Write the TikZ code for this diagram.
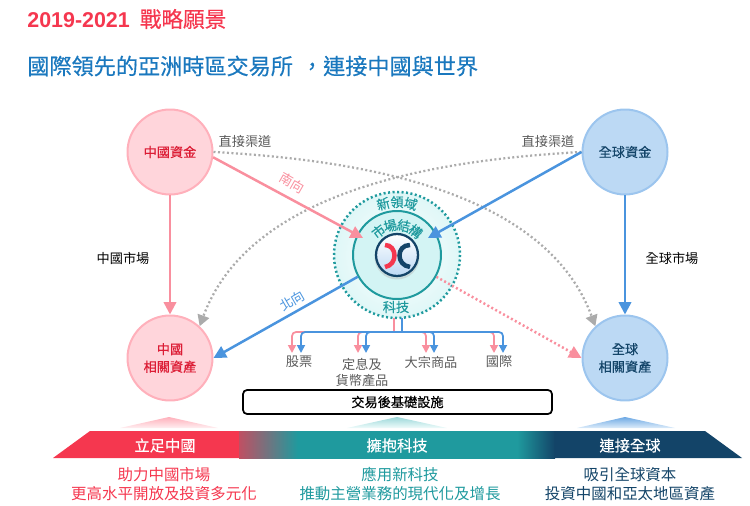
\documentclass[tikz,border=0pt]{standalone}
\usepackage{fontspec}
\setmainfont{Noto Sans CJK TC}
\newfontfamily\latinfont{Liberation Sans}
\newfontfamily\cjkmed[FakeBold=0.4]{Noto Sans CJK TC}
\usetikzlibrary{arrows.meta,calc}

\definecolor{lhred}{HTML}{F5374F}
\definecolor{lhdeep}{HTML}{DC1C35}
\definecolor{lhpink}{HTML}{F98F9E}
\definecolor{lhrose}{HTML}{FFD5DB}
\definecolor{lhrim}{HTML}{FFB0BB}
\definecolor{lhblue}{HTML}{4A94DE}
\definecolor{lhsky}{HTML}{BCD9F4}
\definecolor{lhsea}{HTML}{9CC5EE}
\definecolor{lhnavy}{HTML}{134468}
\definecolor{lhteal}{HTML}{1F9A9E}
\definecolor{lhaqua}{HTML}{D3F4F4}
\definecolor{lhfoam}{HTML}{DFF7F7}
\definecolor{lhtitle}{HTML}{1A78BE}
\definecolor{lhgrey}{HTML}{ABABAB}
\definecolor{lhtext}{HTML}{5A5A5A}

\pgfdeclarehorizontalshading{lhband}{100bp}{
  color(0bp)=(lhred!75!lhteal); color(25bp)=(lhred!75!lhteal); color(34.3bp)=(lhteal);
  color(69bp)=(lhteal); color(75bp)=(lhnavy); color(100bp)=(lhnavy)}

\tikzset{
  cnball/.style={circle,minimum size=1.7cm,inner sep=0pt,line width=0.04cm,draw=lhrim,fill=lhrose,
    text=lhdeep,align=center,font=\cjkmed\fontsize{7.5}{10}\selectfont},
  glball/.style={cnball,draw=lhsea,fill=lhsky,text=lhnavy},
  label/.style={font=\fontsize{7.5}{8.8}\selectfont,text=lhtext,align=center,inner sep=0pt},
  ringtext/.style={font=\cjkmed\fontsize{7.5}{9}\selectfont,text=lhteal,inner sep=0pt},
  bartext/.style={font=\cjkmed\fontsize{8.7}{10}\selectfont,text=white,inner sep=0pt},
  footnotetext/.style={font=\fontsize{8.8}{10.8}\selectfont,align=center,inner sep=0pt},
  pinkline/.style={draw=lhpink,line width=0.05cm,-{Triangle[length=0.25cm,width=0.25cm]}},
  blueline/.style={draw=lhblue,line width=0.05cm,-{Triangle[length=0.25cm,width=0.25cm]}},
  channel/.style={draw=lhgrey,line width=0.045cm,dash pattern=on 0.04cm off 0.05cm,-{Triangle[length=0.22cm,width=0.24cm]}},
  pinkstub/.style={draw=lhpink,line width=0.035cm},
  bluestub/.style={draw=lhblue,line width=0.035cm},
}

\begin{document}
\begin{tikzpicture}[x=0.02cm,y=-0.02cm]
\useasboundingbox (0,0) rectangle (750,506);

% titles
\node[anchor=west,inner sep=0pt,text=lhred] (maintitle) at (27,19)
  {{\latinfont\bfseries\fontsize{12.2}{14}\selectfont 2019-2021}\hspace{0.2cm}{\cjkmed\fontsize{12.3}{14}\selectfont 戰略願景}};
\node[anchor=west,inner sep=0pt,text=lhtitle,font=\cjkmed\fontsize{12.6}{14}\selectfont] (subtitle) at (27,66)
  {國際領先的亞洲時區交易所\hspace{0.16cm}，連接中國與世界};

% four corner balls
\node[cnball] (cnfund) at (170,152) {中國資金};
\node[glball] (glfund) at (625,152) {全球資金};
\node[cnball] (cnasset) at (170,358) {中國\\相關資產};
\node[glball] (glasset) at (625,358) {全球\\相關資產};

% centre rings
\node[circle,minimum size=2.52cm,inner sep=0pt,inner color=white,outer color=lhfoam] (newring) at (397,255) {};
\draw[lhteal,line width=0.05cm,dash pattern=on 0.04cm off 0.05cm] (397,255) circle (63);
\node[circle,minimum size=1.76cm,inner sep=0pt,line width=0.04cm,draw=lhteal,fill=lhaqua] (mktring) at (397,255) {};

% logo
\fill[black!30,opacity=0.4] (397,257) circle (22.5);
\node[circle,minimum size=0.84cm,inner sep=0pt,line width=0.045cm,draw=lhnavy,
  top color=white,bottom color=lhsky] (logo) at (397,255) {};
\draw[lhred,line width=0.09cm] (385,245) .. controls (391,245) and (394.5,250) .. (394.5,255.5)
  .. controls (394.5,261) and (391,266) .. (385,267);
\draw[lhnavy,line width=0.09cm] (410,245) .. controls (403,245) and (399.5,250) .. (399.5,255.5)
  .. controls (399.5,261) and (403,266) .. (410,267);

% ring labels
\foreach \ch/\ang [count=\i] in {新/105,領/90,域/75}
  \node[ringtext,rotate=\ang-90] (newch\i) at ($(397,255)+(\ang:1.06cm)$) {\ch};
\foreach \ch/\ang [count=\i] in {市/128,場/103,結/77,構/52}
  \node[ringtext,rotate=\ang-90] (mktch\i) at ($(397,255)+(\ang:0.6cm)$) {\ch};
\node[ringtext] (tech) at (396,307) {科技};

% direct channels
\draw[channel] (cnfund.east) .. controls (360,160) and (545,190) .. (glasset.133);
\draw[channel] (glfund.west) .. controls (435,160) and (250,190) .. (cnasset.47);

% markets
\draw[pinkline] (cnfund) -- (cnasset);
\draw[blueline] (glfund) -- (glasset);
\node[inner sep=0pt,font=\fontsize{7.5}{9}\selectfont] (cnmarket) at (123,258) {中國市場};
\node[inner sep=0pt,font=\fontsize{7.5}{9}\selectfont] (glmarket) at (672,258) {全球市場};
\node[label] (directl) at (245,141) {直接渠道};
\node[label] (directr) at (548,141) {直接渠道};

% south and north bound
\coordinate (southtip) at (363,238);
\coordinate (easttip) at (428,238);
\draw[pinkline] (cnfund.-7) -- (southtip);
\draw[blueline] (glfund.west) -- (easttip);
\draw[blueline] (mktring.209) -- (cnasset.east);
\draw[draw=lhpink,line width=0.05cm,dash pattern=on 0.04cm off 0.05cm,-{Triangle[length=0.25cm,width=0.25cm]}] (mktring.-29) -- (glasset.west);
\node[label,text=lhpink,rotate=-30] (south) at (292,183) {南向};
\node[label,text=lhblue,rotate=30] (north) at (292,301) {北向};

% product branches
\coordinate (pinkjoin) at (394,332);
\coordinate (bluejoin) at (402,332);
\draw[pinkstub] (394,318) -- (pinkjoin);
\draw[bluestub] (402,318) -- (bluejoin);
\foreach \px in {292,358,426,494} {
  \coordinate (pt\px) at (\px,353);
  \draw[pinkstub,rounded corners=0.08cm,-{Triangle[length=0.16cm,width=0.16cm]}] (pinkjoin) -- (\px,332) -- (pt\px);
}
\foreach \bx in {301,366,434,503} {
  \coordinate (bt\bx) at (\bx,353);
  \draw[bluestub,rounded corners=0.08cm,-{Triangle[length=0.16cm,width=0.16cm]}] (bluejoin) -- (\bx,332) -- (bt\bx);
}
\node[label] (stocks) at (299,362) {股票};
\node[label,anchor=north] (fixed) at (362,358) {定息及\\貨幣產品};
\node[label] (commod) at (431,362) {大宗商品};
\node[label] (intl) at (499,362) {國際};

% post trade box
\node[draw=black,line width=0.035cm,rounded corners=0.08cm,fill=white,minimum width=6.18cm,minimum height=0.48cm,
  inner sep=0pt,font=\cjkmed\fontsize{7.5}{9}\selectfont] (posttrade) at (397.5,402) {交易後基礎設施};

% small triangles
\shade[top color=lhrim,bottom color=lhrose!40] (120,428) -- (169,417) -- (218,428) -- cycle;
\shade[top color=lhteal!30!lhaqua,bottom color=lhfoam!50] (347,428) -- (397,417) -- (447,428) -- cycle;
\shade[top color=lhblue!80,bottom color=lhsky!50] (577,428) -- (625,417) -- (675,428) -- cycle;

% banner
\fill[lhred] (53,458) -- (90,431) -- (239,431) -- (239,458) -- cycle;
\shade[shading=lhband] (239,431) rectangle (555,458);
\fill[lhnavy] (554.5,431) -- (705,431) -- (742,458) -- (554.5,458) -- cycle;
\node[bartext] (standcn) at (165,445.5) {立足中國};
\node[bartext] (embrace) at (397,445.5) {擁抱科技};
\node[bartext] (linkgl) at (630,445.5) {連接全球};

% bottom texts
\node[footnotetext,text=lhred] (cnfoot) at (164,484) {助力中國市場\\更高水平開放及投資多元化};
\node[footnotetext,text=lhteal] (techfoot) at (400,484) {應用新科技\\推動主營業務的現代化及增長};
\node[footnotetext,text=lhnavy] (glfoot) at (630,484) {吸引全球資本\\投資中國和亞太地區資產};
\end{tikzpicture}
\end{document}
